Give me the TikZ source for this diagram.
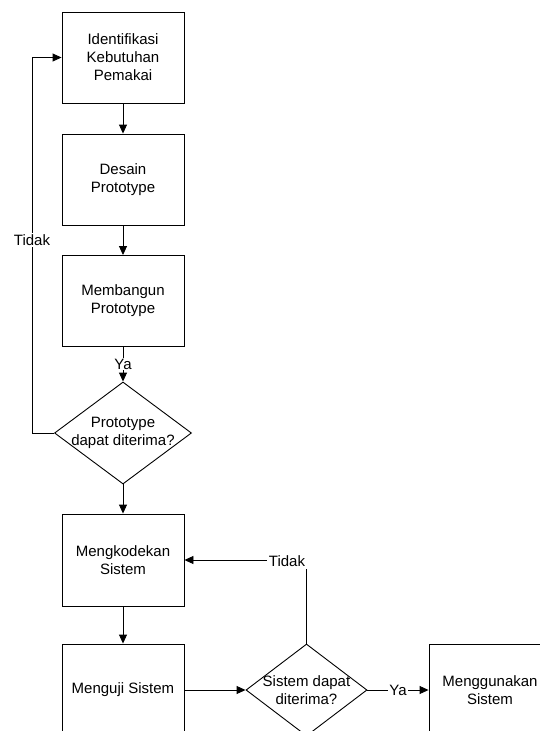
\documentclass[tikz,border=0pt]{standalone}
\usepackage{fontspec}
\setmainfont{Liberation Sans}
\usetikzlibrary{shapes.geometric,arrows.meta}
\begin{document}
\begin{tikzpicture}[x=1pt,y=-1pt,
  every node/.style={font=\fontsize{15}{18}\selectfont},
  box/.style={draw, line width=0.9pt, minimum width=122pt, minimum height=91pt, align=center, inner sep=0pt},
  dia/.style={draw, diamond, line width=0.9pt, inner sep=0pt},
  txt/.style={align=center, inner sep=0pt},
  lbl/.style={fill=white, inner sep=1pt},
  conn/.style={line width=0.9pt, -{Triangle[length=9pt,width=8pt]}},
  plain/.style={line width=0.9pt}]
\useasboundingbox (0,0) rectangle (539,731);
\node[box] (b1) at (123,57.5) {Identifikasi\\Kebutuhan\\Pemakai};
\node[box] (b2) at (123,179.5) {Desain\\Prototype};
\node[box] (b3) at (123,301) {Membangun\\Prototype};
\node[dia, minimum width=137pt, minimum height=102pt] (d1) at (123,433) {};
\node[txt] (d1t) at (123,433) {Prototype\\dapat diterima?};
\node[box, minimum height=92pt] (b4) at (123,560) {Mengkodekan\\Sistem};
\node[box, minimum height=92pt] (b5) at (123,690) {Menguji Sistem};
\node[dia, minimum width=121pt, minimum height=92pt] (d2) at (306.5,690) {};
\node[txt] (d2t) at (306.5,690) {Sistem dapat\\diterima?};
\node[box, minimum height=92pt] (b6) at (490,690) {Menggunakan\\Sistem};
\coordinate (c1) at (32,433);

\draw[conn] (b1) -- (b2);
\draw[conn] (b2) -- (b3);
\draw[conn] (b3.south) -- node[lbl] (ya1) {Ya} (d1.north);
\draw[conn] (d1.west) -- (c1) |- (b1.west);
\node[lbl] (t1) at (32,240) {Tidak};
\draw[conn] (d1.south) -- (b4.north);
\draw[conn] (b4) -- (b5);
\draw[conn] (b5.east) -- (d2.west);
\draw[conn] (d2.north) |- (b4.east);
\node[lbl, inner sep=2pt] (t2) at (287,561) {Tidak};
\draw[conn] (d2.east) -- node[lbl] (ya2) {Ya} (b6.west);
\end{tikzpicture}
\end{document}
